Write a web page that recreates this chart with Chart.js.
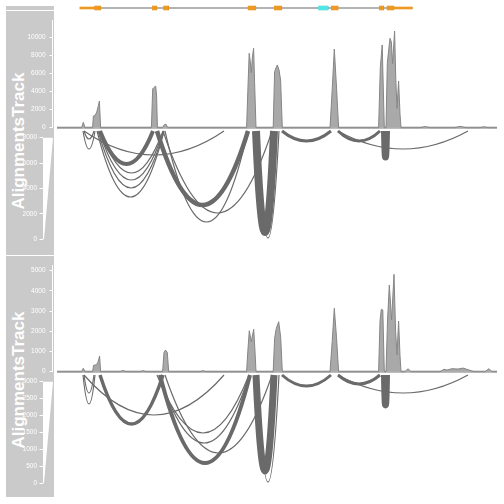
<!DOCTYPE html>
<html><head><meta charset="utf-8">
<script src="https://cdn.jsdelivr.net/npm/chart.js@4"></script>
<style>
html,body{margin:0;padding:0;background:#fff;}
#wrap{position:relative;width:504px;height:504px;overflow:hidden;}
.panel{position:absolute;background:#CACACA;}
.title{position:absolute;color:#fff;font:bold 17px "Liberation Sans",Arial,sans-serif;white-space:nowrap;transform:translate(-50%,-50%) rotate(-90deg);}
canvas{position:absolute;left:0;}
</style></head>
<body><div id="wrap">
<div class="panel" style="left:6px;top:6px;width:48px;height:3.5px"></div>
<div class="panel" style="left:6px;top:11px;width:48px;height:243.5px"></div>
<div class="panel" style="left:6px;top:256px;width:48px;height:241px"></div>
<div class="title" style="left:19px;top:141px">AlignmentsTrack</div>
<div class="title" style="left:19px;top:380px">AlignmentsTrack</div>
<canvas id="gene" width="504" height="16" style="top:0"></canvas>
<canvas id="p1" width="504" height="243" style="top:11px"></canvas>
<canvas id="p2" width="504" height="241" style="top:256px"></canvas>
</div>
<script>
// ---------- DATA (genomic positions in bp) ----------
const X_MIN = -400, X_MAX = 44300;

const geneStart = 2300, geneEnd = 35530;
const utrStart = [2300, 33700];
const utrEnd   = [3730, 35530];
const exonStart = [3730, 9500, 10630, 19070, 21700, 26130, 27400, 32200, 32970];
const exonEnd   = [4400, 10000, 11170, 19900, 22500, 27130, 28130, 32700, 33700];
const exonKind  = ['cds','cds','cds','cds','cds','ncRNA','cds','cds','cds'];

// coverage, sample 1
const covPos1 = [0,2470,2630,2800,3560,3640,3820,3980,4140,4240,4360,9440,9570,9700,9870,9960,10040,10560,10740,10900,11080,
  18960,19080,19220,19320,19430,19540,19660,19760,19900,21620,21760,21930,22030,22200,22360,22530,27300,27520,27730,27950,28160,
  32160,32330,32520,32730,32900,33030,33170,33300,33430,33560,33760,33880,34000,34160,34300,34400,
  36300,36800,37300,39800,40300,40900,42300,42700,43100,44000];
const covVal1 = [0,0,600,0,0,1300,1350,1770,2450,2950,0,0,4300,4450,4600,3500,0,0,350,380,0,
  0,4000,8230,7400,6080,7800,8780,5000,0,0,6200,6700,6940,6400,5260,0,0,4200,8700,4500,0,
  0,6660,9150,0,0,7120,8600,9890,9500,7100,10700,5300,2150,5170,1500,0,
  0,120,0,0,150,0,0,100,0,0];

// coverage, sample 2
const covPos2 = [0,2470,2630,2800,3560,3660,3950,4120,4260,4360,6300,6600,6900,8300,8600,8900,10560,10700,10850,11030,11170,
  14300,14600,14900,18960,19080,19230,19430,19670,19780,19900,21620,21760,21930,22170,22370,22530,27300,27520,27730,27950,28160,
  32160,32300,32430,32580,32730,32900,33050,33230,33460,33700,33860,34000,34160,34300,34400,
  34800,35100,35400,38300,38700,39000,39500,40100,40600,41100,41700,42800,43200,43500,44000];
const covVal2 = [0,0,170,0,0,320,340,500,780,0,0,60,0,0,50,0,0,950,1075,950,0,
  0,50,0,0,1000,2030,1485,2100,1200,0,0,1650,2150,2475,1700,0,0,1500,3140,1700,0,
  0,2500,3090,3050,0,0,2500,4290,2560,4820,2000,830,2510,800,0,
  0,150,0,0,120,80,150,130,180,100,0,0,150,0,0];

// splice junctions, sample 1 (start, end, read count, arc depth)
const junStart1 = [2700,2600,2700,4300,4300,4200,4100,4000,10000,10800,10600,19900,20000,22500,28100,28100,32750];
const junEnd1   = [3700,3800,16700,9600,10600,10650,10700,10700,19100,19100,21500,21700,22200,27400,32300,41100,32950];
const junCount1 = [150,120,150,2700,200,150,150,120,3100,150,150,6200,150,1780,1780,150,5300];
const junDepth1 = [8,18,24,33,42,49,57,66,74,91,82,101,107,10,10,18,26];

// splice junctions, sample 2
const junStart2 = [2700,2600,2700,4300,10300,10000,10200,10800,19900,20000,22500,28100,28100,32750];
const junEnd2   = [3700,3800,16700,10600,19300,19200,19250,21500,21700,22200,27400,32300,41100,32950];
const junCount2 = [60,50,60,830,1000,60,60,60,2000,60,670,670,60,2000];
const junDepth2 = [18,29,40,49,88,58,68,78,96,107,11,9,18,30];

// axis tick labels
const covTicks1  = [0,2000,4000,6000,8000,10000];
const sashTicks1 = [0,2000,4000,6000,8000];
const covTicks2  = [0,1000,2000,3000,4000,5000];
const sashTicks2 = [0,500,1000,1500,2000,2500,3000];

// ---------- STYLE ----------
const ORANGE = '#EE9A22', ORANGE_B = '#D9861A', CYAN = '#4FE6EA', CYAN_B = '#33C8CC';
const ARC_COLOR = '#6a6a6a';
const FONT = {family:'"Liberation Sans", Arial, sans-serif', size:6.5};
const ARC_SHOULDER = 1/3;

// gene model
new Chart(document.getElementById('gene'), {
  type: 'bar',
  data: { labels: ['tx'], datasets: [
    { data: [{x:[geneStart, geneEnd], y:'tx'}], backgroundColor:'#9a9a9a', barThickness:1, grouped:false, order:3 },
    { data: utrStart.map((s,i)=>({x:[s, utrEnd[i]], y:'tx'})), backgroundColor:ORANGE, barThickness:2, grouped:false, order:2 },
    { data: exonStart.map((s,i)=>({x:[s, exonEnd[i]], y:'tx'})),
      backgroundColor: exonKind.map(k=>k==='cds'?ORANGE:CYAN),
      borderColor: exonKind.map(k=>k==='cds'?ORANGE_B:CYAN_B), borderWidth:0.6,
      barThickness:4.5, grouped:false, order:1 }
  ]},
  options: { indexAxis:'y', responsive:false, animation:false,
    layout:{padding:{left:53,right:4,top:0,bottom:0}},
    plugins:{legend:{display:false}, tooltip:{enabled:false}},
    scales:{ x:{type:'linear', min:X_MIN, max:X_MAX, display:false}, y:{display:false} } }
});

function linRange(vA, pA, vB, pB, top, bottom) {
  const k = (pA - pB) / (vB - vA);
  return { max: vA + (pA - top) / k, min: vA - (bottom - pA) / k };
}
const lwFor = (c, m) => 1 + 9 * c / m;

const sashimiPlugin = {
  id: 'sashimi',
  beforeDatasetsDraw(chart, args, o) {
    const ctx = chart.ctx, xs = chart.scales.x, yc = chart.scales.yCov;
    ctx.save();
    ctx.strokeStyle = '#bdbdbd'; ctx.lineWidth = 2.4;
    const y0 = yc.getPixelForValue(0);
    ctx.beginPath();
    ctx.moveTo(xs.getPixelForValue(o.covPos[0]), y0);
    ctx.lineTo(xs.getPixelForValue(o.covPos[o.covPos.length-1]), y0);
    ctx.stroke();
    ctx.restore();
  },
  afterDatasetsDraw(chart, args, o) {
    const ctx = chart.ctx, xs = chart.scales.x, ya = chart.scales.yArc,
          ys = chart.scales.ySash, yc = chart.scales.yCov;
    ctx.save();
    ctx.strokeStyle = '#fff'; ctx.lineWidth = 1;
    ctx.beginPath();
    ctx.moveTo(yc.right - 0.5, yc.getPixelForValue(0));
    ctx.lineTo(yc.right - 0.5, chart.chartArea.top);
    ctx.stroke();
    const sMax = o.sashTicks[o.sashTicks.length-1];
    const wt = ys.getPixelForValue(sMax), wb = ys.getPixelForValue(0), xl = ys.right;
    ctx.fillStyle = '#fff';
    ctx.beginPath();
    ctx.moveTo(xl, wb); ctx.lineTo(xl, wt);
    ctx.lineTo(xl + lwFor(sMax, sMax), wt); ctx.lineTo(xl + lwFor(0, sMax), wb);
    ctx.closePath(); ctx.fill();
    ctx.strokeStyle = ARC_COLOR; ctx.lineCap = 'butt';
    const yb = ya.getPixelForValue(0);
    o.start.forEach((s, i) => {
      const x1 = xs.getPixelForValue(s), x2 = xs.getPixelForValue(o.end[i]);
      const yd = ya.getPixelForValue(o.depth[i]);
      const yk = yb + (yd - yb) * 4 / 3;
      const dx = (x2 - x1) * ARC_SHOULDER;
      ctx.lineWidth = lwFor(o.count[i], sMax);
      ctx.beginPath();
      ctx.moveTo(x1, yb);
      ctx.bezierCurveTo(x1 + dx, yk, x2 - dx, yk, x2, yb);
      ctx.stroke();
    });
    ctx.restore();
  }
};

function noClip(s) { s._computeLabelArea = () => undefined; }

function makePanel(id, cfg) {
  const cov = linRange(0, cfg.cov0px, cfg.covRef, cfg.covRefPx, cfg.top, cfg.bottom);
  const sash = linRange(0, cfg.sash0px, cfg.sashRef, cfg.sashRefPx, cfg.top, cfg.bottom);
  const tickOpts = {color:'#fff', font:FONT, callback:v=>String(v)};
  new Chart(document.getElementById(id), {
    type: 'line',
    data: { datasets: [{
      data: cfg.covPos.map((p,i)=>({x:p, y:cfg.covVal[i]})),
      yAxisID:'yCov', borderColor:'#858585', borderWidth:1, backgroundColor:'#a9a9a9',
      fill:'origin', pointRadius:0, tension:0 }]},
    options: {
      responsive:false, animation:false,
      layout:{padding:{top:cfg.padTop, right:4, left:0, bottom:0}},
      plugins:{legend:{display:false}, tooltip:{enabled:false},
        sashimi:{covPos:cfg.covPos, start:cfg.start, end:cfg.end, count:cfg.count, depth:cfg.depth, sashTicks:cfg.sashTicks}},
      scales:{
        x:{type:'linear', min:X_MIN, max:X_MAX, display:false},
        ySash:{type:'linear', position:'left', weight:2, min:sash.min, max:sash.max,
          afterBuildTicks:s=>{s.ticks = cfg.sashTicks.map(v=>({value:v}));},
          afterFit:s=>{s.width = 43; s.paddingTop = 0; s.paddingBottom = 0; noClip(s);},
          grid:{drawOnChartArea:false, tickLength:3.5, color:'#fff', tickColor:'#fff'},
          border:{display:false}, ticks:Object.assign({padding:2.5}, tickOpts)},
        yCov:{type:'linear', position:'left', weight:1, min:cov.min, max:cov.max,
          afterBuildTicks:s=>{s.ticks = cfg.covTicks.map(v=>({value:v}));},
          afterFit:s=>{s.width = 10; s.paddingTop = 0; s.paddingBottom = 0; noClip(s);},
          grid:{drawOnChartArea:false, tickLength:3.5, color:'#fff', tickColor:'#fff'},
          border:{display:false}, ticks:Object.assign({padding:4}, tickOpts)},
        yArc:{type:'linear', display:false, reverse:true,
          min: -(cfg.arc0px - cfg.top), max: cfg.bottom - cfg.arc0px}
      }
    },
    plugins:[sashimiPlugin]
  });
}

makePanel('p1', { top:9, bottom:243, padTop:9,
  cov0px:116.7, covRef:10000, covRefPx:26.3, sash0px:228.3, sashRef:8000, sashRefPx:126.7, arc0px:120,
  covPos:covPos1, covVal:covVal1, covTicks:covTicks1, sashTicks:sashTicks1,
  start:junStart1, end:junEnd1, count:junCount1, depth:junDepth1 });
makePanel('p2', { top:9, bottom:241, padTop:9,
  cov0px:115.7, covRef:5000, covRefPx:14.7, sash0px:227.3, sashRef:3000, sashRefPx:125.7, arc0px:119,
  covPos:covPos2, covVal:covVal2, covTicks:covTicks2, sashTicks:sashTicks2,
  start:junStart2, end:junEnd2, count:junCount2, depth:junDepth2 });
</script>
</body></html>
